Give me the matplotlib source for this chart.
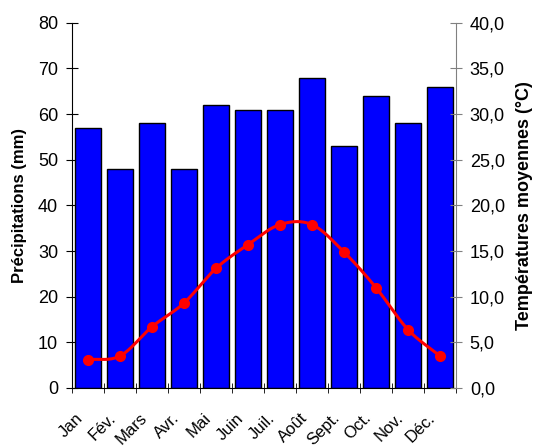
import numpy as np
import matplotlib.pyplot as plt
from matplotlib.ticker import FuncFormatter
from matplotlib.transforms import ScaledTranslation

plt.rcParams['font.family'] = ['Liberation Sans', 'DejaVu Sans']

# Données climatiques
mois = ["Jan", "Fév.", "Mars", "Avr.", "Mai", "Juin", "Juil.", "Août",
        "Sept.", "Oct.", "Nov.", "Déc."]
precipitations = [57, 48, 58, 48, 62, 61, 61, 68, 53, 64, 58, 66]
temperatures = [3.1, 3.5, 6.7, 9.3, 13.1, 15.7, 17.9, 17.9, 14.9, 11.0, 6.4, 3.5]


def lissage(x, y, n=20):
    # courbe lissée type Catmull-Rom entre les points
    x = np.asarray(x, float)
    y = np.asarray(y, float)
    px = np.concatenate([[2 * x[0] - x[1]], x, [2 * x[-1] - x[-2]]])
    py = np.concatenate([[2 * y[0] - y[1]], y, [2 * y[-1] - y[-2]]])
    xs, ys = [], []
    t = np.linspace(0, 1, n)
    for i in range(1, len(px) - 2):
        for p, out in ((px, xs), (py, ys)):
            p0, p1, p2, p3 = p[i - 1], p[i], p[i + 1], p[i + 2]
            out.extend(0.5 * ((2 * p1) + (-p0 + p2) * t
                              + (2 * p0 - 5 * p1 + 4 * p2 - p3) * t ** 2
                              + (-p0 + 3 * p1 - 3 * p2 + p3) * t ** 3))
    return np.array(xs), np.array(ys)


fig = plt.figure(figsize=(5.37, 4.48), dpi=100)
ax = fig.add_axes([0.134, 0.134, 0.715, 0.815])
x = np.arange(len(mois))

ax.bar(x, precipitations, width=0.83, color="#0000FF", edgecolor="black",
       linewidth=1, zorder=2)
ax.set_xlim(-0.5, 11.5)
ax.set_ylim(0, 80)
ax.set_yticks(range(0, 81, 10))
ax.set_ylabel("Précipitations (mm)", fontsize=12, fontweight="bold",
              labelpad=8)

ax.set_xticks(x)
ax.set_xticklabels(mois, rotation=45, ha="right", va="center",
                   rotation_mode="anchor", fontsize=12)
ax.tick_params(axis="x", which="major", length=0, pad=20)
decalage = ScaledTranslation(-7 / 100, 0, fig.dpi_scale_trans)
for lab in ax.get_xticklabels():
    lab.set_transform(lab.get_transform() + decalage)
ax.set_xticks(np.arange(-0.5, 12, 1), minor=True)
ax.tick_params(axis="x", which="minor", direction="inout", length=7)
ax.tick_params(axis="y", direction="inout", length=8, labelsize=13, pad=6)
ax.spines["top"].set_visible(False)
ax.spines["right"].set_visible(False)

ax2 = ax.twinx()
ax2.set_ylim(0, 40)
ax2.set_yticks(range(0, 41, 5))
ax2.yaxis.set_major_formatter(FuncFormatter(lambda v, p: f"{v:.1f}".replace(".", ",")))
ax2.tick_params(axis="y", direction="inout", length=8, labelsize=13, pad=6,
                color="#808080")
ax2.spines["top"].set_visible(False)
ax2.spines["left"].set_visible(False)
ax2.spines["bottom"].set_visible(False)
ax2.spines["right"].set_color("#808080")
ax2.set_ylabel("Températures moyennes (°C)", fontsize=13, fontweight="bold",
               labelpad=8)

sx, sy = lissage(x, temperatures)
ax2.plot(sx, sy, color="red", linewidth=2.2, zorder=3)
ax2.plot(x, temperatures, "o", color="red", markersize=7, zorder=4)

fig.savefig("out.png", dpi=100)
